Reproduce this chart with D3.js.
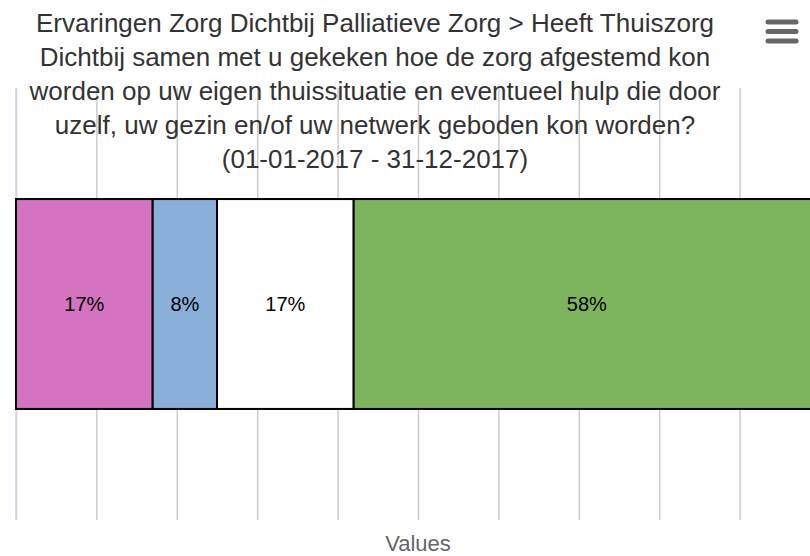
<!DOCTYPE html>
<html>
<head>
<meta charset="utf-8">
<script src="https://cdn.jsdelivr.net/npm/d3@7"></script>
<style>
    body { margin: 0; background: #fff; }
    svg { display: block; font-family: "Liberation Sans", Arial, sans-serif; }
</style>
</head>
<body>
<svg id="chart"></svg>
<script>
'use strict';

const WIDTH = 810;
const HEIGHT = 556;

// data
const titleLines = [
    'Ervaringen Zorg Dichtbij Palliatieve Zorg > Heeft Thuiszorg',
    'Dichtbij samen met u gekeken hoe de zorg afgestemd kon',
    'worden op uw eigen thuissituatie en eventueel hulp die door',
    'uzelf, uw gezin en/of uw netwerk geboden kon worden?',
    '(01-01-2017 - 31-12-2017)'
];
const categories = ['Heeft Thuiszorg Dichtbij'];
const seriesKeys = ['s1', 's2', 's3', 's4'];
const seriesValues = [17, 8, 17, 58];
const seriesColors = ['#d473bf', '#8aafd8', '#ffffff', '#7fb45f'];
const gridTicks = [0, 10, 20, 30, 40, 50, 60, 70, 80, 90, 100];
const axisTitle = 'Values';

// plot area
const PLOT = {left: 16, right: 820, top: 88, bottom: 520};

const svg = d3.select('#chart').attr('width', WIDTH).attr('height', HEIGHT);

const x = d3.scaleLinear()
    .domain([0, 100])
    .range([PLOT.left, PLOT.right]);

const y = d3.scaleBand()
    .domain(categories)
    .range([PLOT.top, PLOT.bottom])
    .padding(0.346);

// grid lines
let grid = svg.append('g')
    .attr('transform', 'translate(0,' + PLOT.bottom + ')')
    .call(d3.axisBottom(x)
        .tickValues(gridTicks)
        .tickSize(-(PLOT.bottom - PLOT.top))
        .tickFormat(''));
grid.select('.domain').remove();
grid.selectAll('.tick line')
    .attr('stroke', '#cccccc')
    .attr('stroke-width', 1.5);

// category axis line on the left
svg.append('line')
    .attr('x1', x(0)).attr('x2', x(0))
    .attr('y1', PLOT.top).attr('y2', PLOT.bottom)
    .attr('stroke', '#ccd6eb')
    .attr('stroke-width', 1.5);

// stacked bar
let row = {cat: categories[0]};
seriesKeys.forEach(function(k, i) { row[k] = seriesValues[i]; });
const stacked = d3.stack().keys(seriesKeys)([row]);

let layers = svg.append('g').selectAll('g')
    .data(stacked)
    .enter()
    .append('g')
    .attr('fill', function(d, i) { return seriesColors[i]; });

layers.selectAll('rect')
    .data(function(d) { return d; })
    .enter()
    .append('rect')
    .attr('x', function(d) { return x(d[0]); })
    .attr('y', function(d) { return y(d.data.cat); })
    .attr('width', function(d) { return x(d[1]) - x(d[0]); })
    .attr('height', y.bandwidth())
    .attr('stroke', '#000')
    .attr('stroke-width', 2);

// data labels
layers.selectAll('text')
    .data(function(d) { return d; })
    .enter()
    .append('text')
    .attr('x', function(d) { return (x(d[0]) + Math.min(x(d[1]), PLOT.right)) / 2; })
    .attr('y', function(d) { return y(d.data.cat) + y.bandwidth() / 2; })
    .attr('dy', '0.35em')
    .attr('text-anchor', 'middle')
    .attr('fill', '#000')
    .style('font-size', '20px')
    .text(function(d) { return Math.round(d[1] - d[0]) + '%'; });

// title
svg.append('text')
    .attr('text-anchor', 'middle')
    .attr('fill', '#333333')
    .style('font-size', '26px')
    .selectAll('tspan')
    .data(titleLines)
    .enter()
    .append('tspan')
    .attr('x', 375)
    .attr('y', function(d, i) { return 32 + i * 34; })
    .text(function(d) { return d; });

// axis title
svg.append('text')
    .attr('x', (PLOT.left + PLOT.right) / 2)
    .attr('y', 551)
    .attr('text-anchor', 'middle')
    .attr('fill', '#666666')
    .style('font-size', '22px')
    .text(axisTitle);

// menu button
svg.append('g').selectAll('line')
    .data([22, 31.5, 41])
    .enter()
    .append('line')
    .attr('x1', 768).attr('x2', 796)
    .attr('y1', function(d) { return d; })
    .attr('y2', function(d) { return d; })
    .attr('stroke', '#666666')
    .attr('stroke-width', 5)
    .attr('stroke-linecap', 'round');
</script>
</body>
</html>
